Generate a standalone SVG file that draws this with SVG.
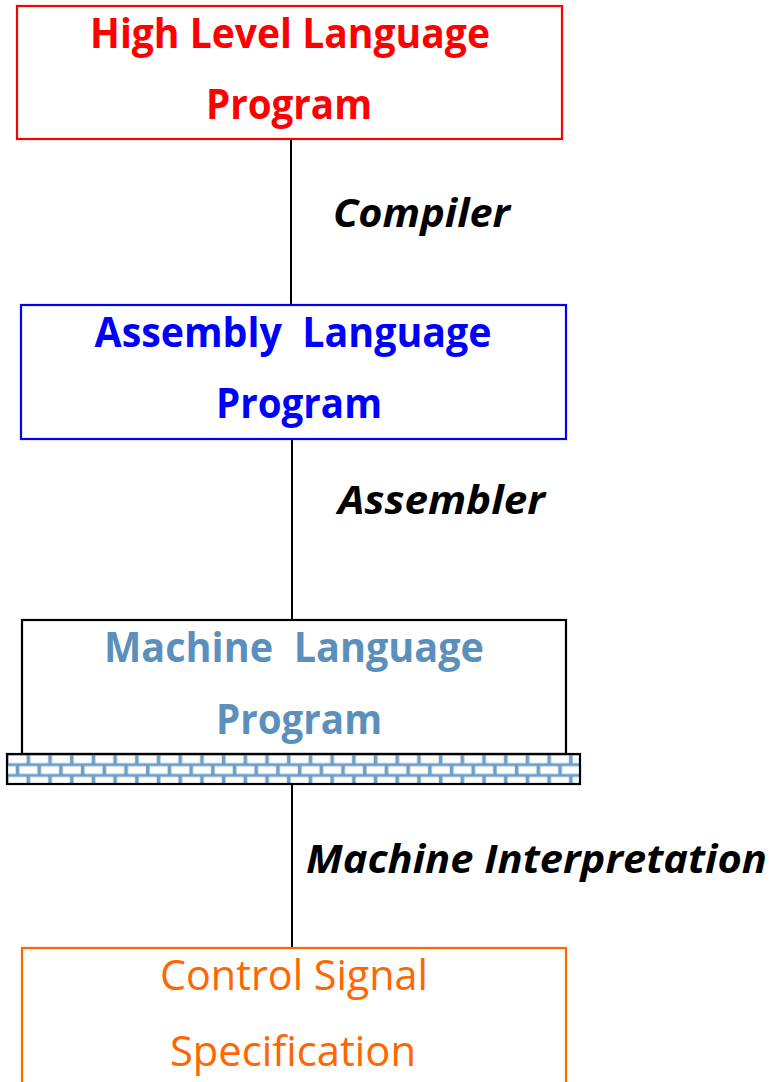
<svg xmlns="http://www.w3.org/2000/svg" width="771" height="1082" viewBox="0 0 771 1082">
<style>
.box{fill:#fff;stroke-width:2.2}
.t{font-family:"Open Sans","Liberation Sans",sans-serif;text-anchor:middle}
.b{font-weight:bold;font-size:42px}
.r{font-size:42px}
.lbl{font-family:"Open Sans","Liberation Sans",sans-serif;font-weight:bold;font-style:italic;font-size:39px;fill:#000}
.conn{stroke:#000;stroke-width:2;fill:none}
</style>
<defs>
<pattern id="brick" x="7" y="754" width="21.7" height="21.4" patternUnits="userSpaceOnUse">
<rect x="0" y="0" width="21.7" height="21.4" fill="#6f9fc7"/>
<rect x="1.5" y="1.5" width="18" height="7.7" fill="#fff"/>
<rect x="-9.3" y="12.2" width="18" height="7.7" fill="#fff"/>
<rect x="12.4" y="12.2" width="18" height="7.7" fill="#fff"/>
</pattern>
</defs>
<g id="connectors">
<line class="conn" x1="291" y1="139" x2="291" y2="305"/>
<line class="conn" x1="292" y1="439" x2="292" y2="620"/>
<line class="conn" x1="292" y1="784" x2="292" y2="948"/>
</g>
<g id="high-level">
<rect class="box" x="17" y="6" width="545" height="133" stroke="#ff0000"/>
<text class="t b" x="290" y="48" fill="#ff0000" textLength="400" lengthAdjust="spacingAndGlyphs">High Level Language</text>
<text class="t b" x="289" y="119" fill="#ff0000" textLength="166" lengthAdjust="spacingAndGlyphs">Program</text>
</g>
<g id="compiler-label">
<text class="lbl" x="333" y="227" textLength="177" lengthAdjust="spacingAndGlyphs">Compiler</text>
</g>
<g id="assembly">
<rect class="box" x="21" y="305" width="545" height="134" stroke="#0000ff"/>
<text class="t b" x="293" y="347" fill="#0000ff" xml:space="preserve" textLength="397" lengthAdjust="spacingAndGlyphs">Assembly  Language</text>
<text class="t b" x="299" y="418" fill="#0000ff" textLength="166" lengthAdjust="spacingAndGlyphs">Program</text>
</g>
<g id="assembler-label">
<text class="lbl" x="338" y="514" textLength="207" lengthAdjust="spacingAndGlyphs">Assembler</text>
</g>
<g id="machine">
<rect class="box" x="22" y="620" width="544" height="134" stroke="#000"/>
<rect x="7" y="754" width="573" height="30" fill="url(#brick)" stroke="#000" stroke-width="2.2"/>
<text class="t b" x="294" y="662" fill="#5b90bd" xml:space="preserve" textLength="380" lengthAdjust="spacingAndGlyphs">Machine  Language</text>
<text class="t b" x="299" y="734" fill="#5b90bd" textLength="166" lengthAdjust="spacingAndGlyphs">Program</text>
</g>
<g id="interp-label">
<text class="lbl" x="306" y="873" textLength="461" lengthAdjust="spacingAndGlyphs">Machine Interpretation</text>
</g>
<g id="control">
<rect class="box" x="22" y="948" width="544" height="150" stroke="#ff6600"/>
<text class="t r" x="294" y="990" fill="#ff6600" textLength="268" lengthAdjust="spacingAndGlyphs">Control Signal</text>
<text class="t r" x="293" y="1066" fill="#ff6600" textLength="246" lengthAdjust="spacingAndGlyphs">Specification</text>
</g>
</svg>
